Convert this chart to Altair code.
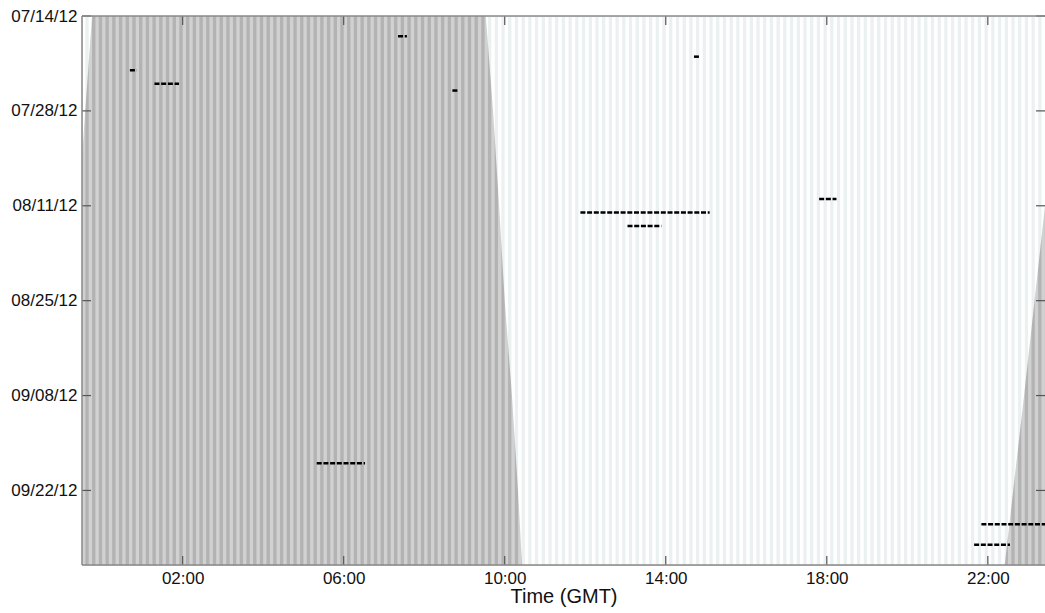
import altair as alt
import pandas as pd
import numpy as np

# ---- detections (date, start hour GMT, end hour GMT) ----
det_dates = ["2012-07-17", "2012-07-20", "2012-07-22", "2012-07-24", "2012-07-25",
             "2012-08-10", "2012-08-12", "2012-08-14", "2012-09-18", "2012-09-27", "2012-09-30"]
det_start = [7.35, 14.70, 0.69, 1.30, 8.70, 17.81, 11.88, 13.05, 5.33, 21.84, 21.66]
det_end = [7.57, 14.85, 0.86, 1.91, 8.86, 18.24, 15.09, 13.89, 6.53, 23.60, 22.55]

# ---- sunrise / sunset (hours GMT) ----
sun_dates = ["2012-07-14", "2012-07-28", "2012-08-11", "2012-08-25", "2012-09-08", "2012-09-22", "2012-10-03"]
sunrise = [9.53, 9.71, 9.86, 10.00, 10.18, 10.33, 10.43]
sunset = [23.75, 23.58, 23.42, 23.16, 22.90, 22.63, 22.42]

tick_hours = [2, 6, 10, 14, 18, 22]
tick_dates = ["2012-07-14", "2012-07-28", "2012-08-11", "2012-08-25", "2012-09-08", "2012-09-22"]

W, H = 963, 549
X_MIN, X_MAX = -0.5, 23.42


def ts(d):
    return d + "T00:00:00"


def dt(d):
    y, m, dd = d.split("-")
    return alt.DateTime(year=int(y), month=int(m), date=int(dd))


det = pd.DataFrame({"date": [ts(d) for d in det_dates], "start": det_start, "end": det_end})
sun = pd.DataFrame({"date": [ts(d) for d in sun_dates], "rise": sunrise, "set": sunset})
sun["prev_set"] = sun["set"] - 24
sun["next_rise"] = sun["rise"] + 24

# 10-minute bin grid (background stripe pattern)
stripes = pd.DataFrame({"b": np.arange(X_MIN, X_MAX, 1 / 6)})
stripes["m"] = stripes["b"] + 1 / 12
stripes["e"] = stripes["b"] + 1 / 6

xs = alt.Scale(domain=[X_MIN, X_MAX], nice=False, zero=False)
ys = alt.Scale(type="time", domain=[dt("2012-07-14"), dt("2012-10-03")], reverse=True, nice=False)

x_axis = alt.Axis(values=tick_hours,
                  labelExpr="(datum.value < 10 ? '0' : '') + datum.value + ':00'",
                  title="Time (GMT)", ticks=False, tickSize=0, domain=False, grid=False,
                  labelFontSize=17, labelPadding=5, titleFontSize=20, titleFontWeight="normal",
                  titlePadding=0, labelColor="#111111", titleColor="#111111")
y_axis = alt.Axis(values=[dt(d) for d in tick_dates], format="%m/%d/%y", title=None,
                  ticks=False, tickSize=0, domain=False, grid=False,
                  labelFontSize=17, labelPadding=5, labelColor="#111111")

day_stripes = alt.Chart(stripes).mark_rect(color="#ebf0f0", clip=True).encode(
    x=alt.X("m:Q", scale=xs, axis=x_axis),
    x2="e:Q",
    y=alt.value(0),
    y2=alt.value(H),
)

night_left = alt.Chart(sun).mark_area(orient="horizontal", clip=True, color="#b3b3b3").encode(
    y=alt.Y("date:T", scale=ys, axis=y_axis),
    x=alt.X("prev_set:Q", scale=xs, axis=x_axis),
    x2="rise:Q",
)
night_right = alt.Chart(sun).mark_area(orient="horizontal", clip=True, color="#b3b3b3").encode(
    y=alt.Y("date:T", scale=ys, axis=y_axis),
    x=alt.X("set:Q", scale=xs, axis=x_axis),
    x2="next_rise:Q",
)
night_stripes = alt.Chart(stripes).mark_rect(color="white", opacity=0.4, clip=True).encode(
    x=alt.X("b:Q", scale=xs, axis=x_axis),
    x2="m:Q",
    y=alt.value(0),
    y2=alt.value(H),
)
det_layer = alt.Chart(det).mark_rule(color="black", strokeWidth=2.5, strokeDash=[5, 1.7], clip=True).encode(
    y=alt.Y("date:T", scale=ys, axis=y_axis),
    x=alt.X("start:Q", scale=xs, axis=x_axis),
    x2="end:Q",
)

xt = alt.Chart(pd.DataFrame({"h": tick_hours}))
xt_top = xt.mark_rule(color="#555555", strokeWidth=1.2).encode(
    x=alt.X("h:Q", scale=xs, axis=x_axis), y=alt.value(0), y2=alt.value(9))
xt_bot = xt.mark_rule(color="#555555", strokeWidth=1.2).encode(
    x=alt.X("h:Q", scale=xs, axis=x_axis), y=alt.value(H - 9), y2=alt.value(H))
yt = alt.Chart(pd.DataFrame({"d": [ts(d) for d in tick_dates]}))
yt_left = yt.mark_rule(color="#555555", strokeWidth=1.2).encode(
    y=alt.Y("d:T", scale=ys, axis=y_axis), x=alt.value(0), x2=alt.value(9))
yt_right = yt.mark_rule(color="#555555", strokeWidth=1.2).encode(
    y=alt.Y("d:T", scale=ys, axis=y_axis), x=alt.value(W - 9), x2=alt.value(W))

bd = alt.Chart(pd.DataFrame({"k": [0]}))
b_top = bd.mark_rule(color="#888888", strokeWidth=1.5).encode(x=alt.value(0), x2=alt.value(W), y=alt.value(0))
b_bot = bd.mark_rule(color="#888888", strokeWidth=1.5).encode(x=alt.value(0), x2=alt.value(W), y=alt.value(H))
b_left = bd.mark_rule(color="#888888", strokeWidth=1.5).encode(x=alt.value(0), y=alt.value(0), y2=alt.value(H))

chart = alt.layer(
    day_stripes, night_left, night_right, night_stripes, det_layer,
    xt_top, xt_bot, yt_left, yt_right, b_top, b_bot, b_left,
).properties(
    width=W, height=H,
    padding={"left": 82, "top": 16, "right": 0, "bottom": 48},
    autosize=alt.AutoSizeParams(type="none"),
    background="white",
).configure_view(stroke="transparent", fill="white").configure(font="Liberation Sans")

chart.save("out.html", embed_options={"renderer": "svg", "actions": False})
